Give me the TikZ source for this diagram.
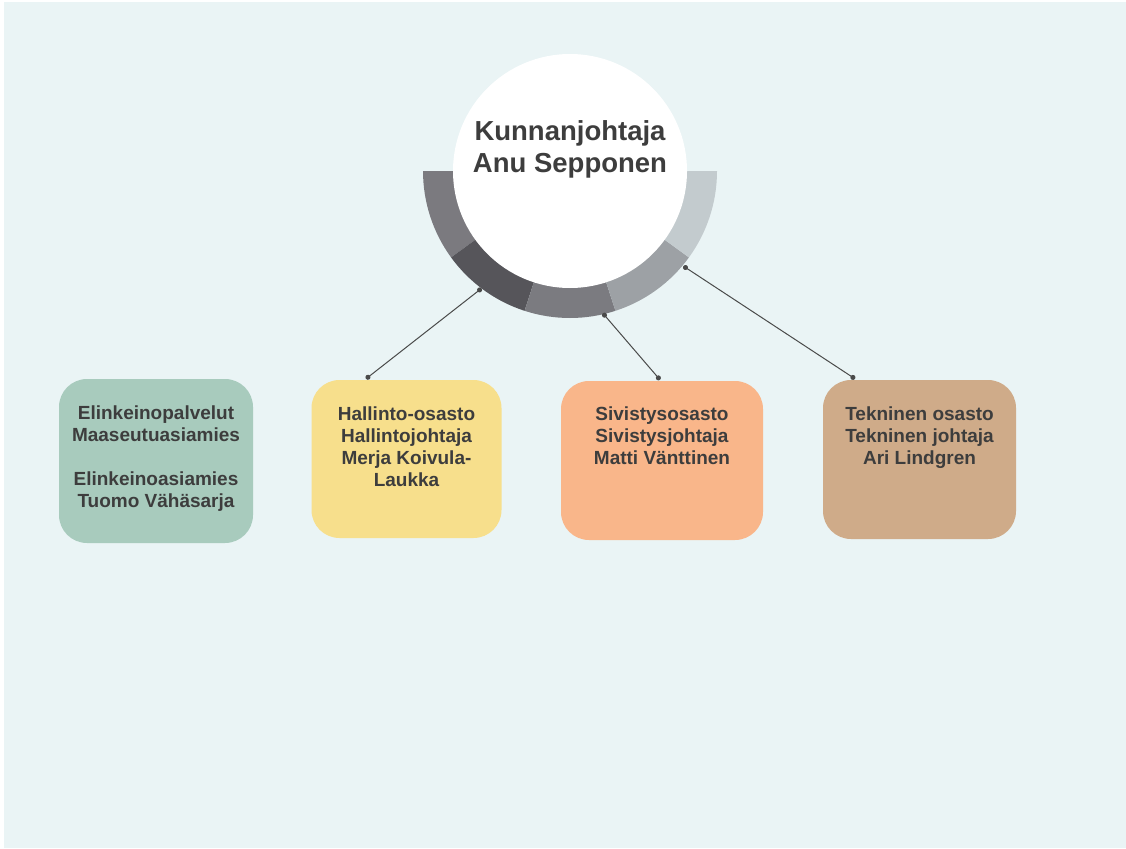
\documentclass[tikz,border=0pt]{standalone}
\usepackage{fontspec}
\setmainfont{Liberation Sans}
\usetikzlibrary{calc,arrows.meta}
\definecolor{bgc}{HTML}{EAF4F5}
\definecolor{txt}{HTML}{3D3D3D}
\definecolor{cgreen}{HTML}{A8CBBD}
\definecolor{cyellow}{HTML}{F7DF8C}
\definecolor{corange}{HTML}{F9B68A}
\definecolor{ctan}{HTML}{CFAB89}
\definecolor{sega}{HTML}{7B7A7F}
\definecolor{segb}{HTML}{56555A}
\definecolor{segc}{HTML}{7B7B80}
\definecolor{segd}{HTML}{9DA1A5}
\definecolor{sege}{HTML}{C3CBCE}
\definecolor{linec}{HTML}{4A4A4A}
\tikzset{
  deptbox/.style={draw=none, rounded corners=28pt, inner sep=0pt},
  depttext/.style={text=txt, font=\bfseries\fontsize{19}{22}\selectfont, align=center, inner sep=0pt, anchor=north},
  conn/.style={draw=linec, line width=1pt, {Circle[length=5pt]}-{Circle[length=5pt]}},
}
\begin{document}
\begin{tikzpicture}[x=1pt,y=-1pt]
\useasboundingbox (0,0) rectangle (1126,848);
\fill[white] (0,0) rectangle (1126,848);
\fill[bgc] (4,2) rectangle (1126,848);
% ring segments
\coordinate (c) at (570,171);
\foreach \k/\col in {0/sega,1/segb,2/segc,3/segd,4/sege}{
  \pgfmathsetmacro{\sa}{180-36*\k}
  \pgfmathsetmacro{\ea}{180-36*(\k+1)}
  \fill[\col] ($(c)+(\sa:147)$) arc[start angle=\sa, end angle=\ea, radius=147]
     -- ($(c)+(\ea:116)$) arc[start angle=\ea, end angle=\sa, radius=116] -- cycle;
}
\node[circle, fill=white, minimum size=234pt, inner sep=0pt] (head) at (c) {};
\node[text=txt, font=\bfseries\fontsize{27.5}{32}\selectfont, align=center, inner sep=0pt] (headtext) at (570,149) {Kunnanjohtaja\\Anu Sepponen};
% boxes
\node[deptbox, fill=cgreen, minimum width=194pt, minimum height=164pt] (b1) at (156,461) {};
\node[deptbox, fill=cyellow, minimum width=190pt, minimum height=158pt] (b2) at (406.5,459) {};
\node[deptbox, fill=corange, minimum width=202pt, minimum height=159pt] (b3) at (662,460.5) {};
\node[deptbox, fill=ctan, minimum width=193pt, minimum height=159pt] (b4) at (919.5,459.5) {};
\node[depttext] (t1) at ($(b1.north)+(0,27)$) {Elinkeinopalvelut\\Maaseutuasiamies\\[22pt]Elinkeinoasiamies\\Tuomo Vähäsarja};
\node[depttext] (t2) at ($(b2.north)+(0,27)$) {Hallinto-osasto\\Hallintojohtaja\\Merja Koivula-\\Laukka};
\node[depttext] (t3) at ($(b3.north)+(0,26)$) {Sivistysosasto\\Sivistysjohtaja\\Matti Vänttinen};
\node[depttext] (t4) at ($(b4.north)+(0,27)$) {Tekninen osasto\\Tekninen johtaja\\Ari Lindgren};
% connector end points
\coordinate (h1) at ($(c)+(127:147)$);
\coordinate (h2) at ($(c)+(77:146)$);
\coordinate (h3) at ($(c)+(40:148)$);
\coordinate (p2) at ($(b2.north)+(-40.5,-1)$);
\coordinate (p3) at ($(b3.north)+(-2,-1)$);
\coordinate (p4) at ($(b4.north)+(-64.5,-1)$);
\draw[conn] (h1) -- (p2);
\draw[conn] (h2) -- (p3);
\draw[conn] (h3) -- (p4);
\end{tikzpicture}
\end{document}
